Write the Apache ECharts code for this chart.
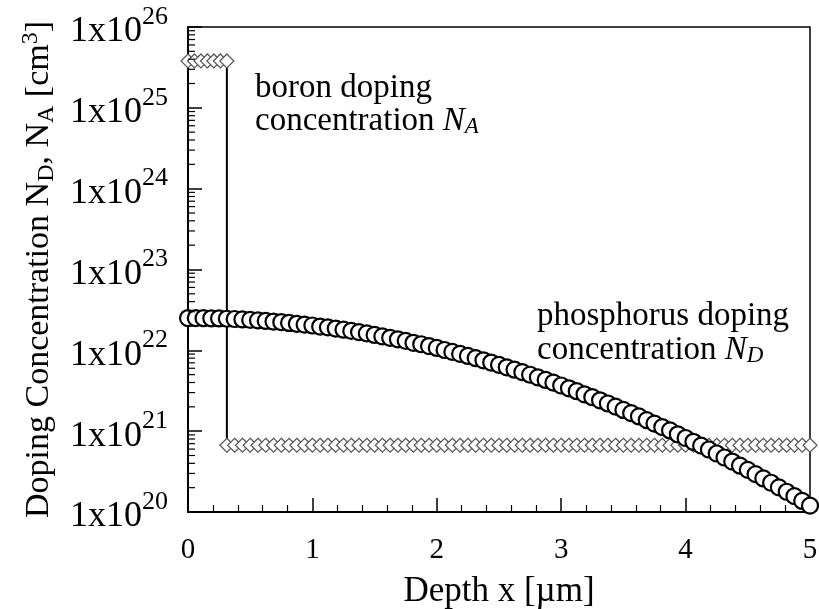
<!DOCTYPE html>
<html>
<head>
<meta charset="utf-8">
<script src="https://cdn.jsdelivr.net/npm/echarts@6/dist/echarts.min.js"></script>
<style>
  html, body { margin: 0; padding: 0; background: #fff; }
  #chart { width: 819px; height: 609px; }
</style>
</head>
<body>
<div id="chart"></div>
<script>
const FONT = 'Liberation Serif';

// phosphorus profile, depth in um and concentration in cm^-3
const phosDepth = [
  0, 0.0625, 0.125, 0.1875, 0.25, 0.3125, 0.375, 0.4375, 0.5, 0.5625,
  0.625, 0.6875, 0.75, 0.8125, 0.875, 0.9375, 1, 1.0625, 1.125, 1.1875,
  1.25, 1.3125, 1.375, 1.4375, 1.5, 1.5625, 1.625, 1.6875, 1.75, 1.8125,
  1.875, 1.9375, 2, 2.0625, 2.125, 2.1875, 2.25, 2.3125, 2.375, 2.4375,
  2.5, 2.5625, 2.625, 2.6875, 2.75, 2.8125, 2.875, 2.9375, 3, 3.0625,
  3.125, 3.1875, 3.25, 3.3125, 3.375, 3.4375, 3.5, 3.5625, 3.625, 3.6875,
  3.75, 3.8125, 3.875, 3.9375, 4, 4.0625, 4.125, 4.1875, 4.25, 4.3125,
  4.375, 4.4375, 4.5, 4.5625, 4.625, 4.6875, 4.75, 4.8125, 4.875, 4.9375,
  5
];
const phosConc = [
  2.51e22, 2.51e22, 2.50e22, 2.49e22, 2.48e22, 2.46e22, 2.44e22, 2.41e22, 2.38e22, 2.35e22,
  2.31e22, 2.27e22, 2.23e22, 2.18e22, 2.13e22, 2.08e22, 2.03e22, 1.97e22, 1.92e22, 1.86e22,
  1.80e22, 1.74e22, 1.68e22, 1.62e22, 1.55e22, 1.49e22, 1.43e22, 1.37e22, 1.31e22, 1.24e22,
  1.19e22, 1.13e22, 1.07e22, 1.01e22, 9.57e21, 9.03e21, 8.52e21, 8.01e21, 7.53e21, 7.06e21,
  6.61e21, 6.17e21, 5.76e21, 5.37e21, 4.99e21, 4.63e21, 4.30e21, 3.98e21, 3.67e21, 3.39e21,
  3.12e21, 2.86e21, 2.63e21, 2.41e21, 2.20e21, 2.01e21, 1.83e21, 1.67e21, 1.52e21, 1.37e21,
  1.24e21, 1.12e21, 1.02e21, 9.15e20, 8.23e20, 7.39e20, 6.62e20, 5.93e20, 5.29e20, 4.72e20,
  4.21e20, 3.74e20, 3.32e20, 2.94e20, 2.60e20, 2.30e20, 2.02e20, 1.78e20, 1.57e20, 1.37e20,
  1.20e20
];

// boron: high surface level, then the background level after the step
const boronHighDepth = [0, 0.052, 0.104, 0.156, 0.208, 0.26, 0.3125];
const boronHighConc = [3.8e25, 3.8e25, 3.8e25, 3.8e25, 3.8e25, 3.8e25, 3.8e25];
const boronLowDepth = phosDepth.slice(5);
const boronLowConc = [
  6.7e20, 6.7e20, 6.7e20, 6.7e20, 6.7e20, 6.7e20, 6.7e20, 6.7e20, 6.7e20, 6.7e20,
  6.7e20, 6.7e20, 6.7e20, 6.7e20, 6.7e20, 6.7e20, 6.7e20, 6.7e20, 6.7e20, 6.7e20,
  6.7e20, 6.7e20, 6.7e20, 6.7e20, 6.7e20, 6.7e20, 6.7e20, 6.7e20, 6.7e20, 6.7e20,
  6.7e20, 6.7e20, 6.7e20, 6.7e20, 6.7e20, 6.7e20, 6.7e20, 6.7e20, 6.7e20, 6.7e20,
  6.7e20, 6.7e20, 6.7e20, 6.7e20, 6.7e20, 6.7e20, 6.7e20, 6.7e20, 6.7e20, 6.7e20,
  6.7e20, 6.7e20, 6.7e20, 6.7e20, 6.7e20, 6.7e20, 6.7e20, 6.7e20, 6.7e20, 6.7e20,
  6.7e20, 6.7e20, 6.7e20, 6.7e20, 6.7e20, 6.7e20, 6.7e20, 6.7e20, 6.7e20, 6.7e20,
  6.7e20, 6.7e20, 6.7e20, 6.7e20, 6.7e20, 6.7e20
];

// log minor ticks (2..9 in each decade)
const decades = [20, 21, 22, 23, 24, 25];
const minorSteps = [2, 3, 4, 5, 6, 7, 8, 9];

function pairs(xs, ys) {
  return xs.map((x, i) => [x, ys[i]]);
}

const boronData = pairs(boronHighDepth, boronHighConc).concat(pairs(boronLowDepth, boronLowConc));
const phosData = pairs(phosDepth, phosConc);

let minorTicks = [];
for (let d of decades) {
  for (let m of minorSteps) {
    minorTicks.push([0, m * Math.pow(10, d)]);
  }
}

const chart = echarts.init(document.getElementById('chart'));

const option = {
  animation: false,
  backgroundColor: '#fff',
  grid: {
    left: 188,
    right: 9,
    top: 27,
    bottom: 97,
    containLabel: false,
    outerBoundsMode: 'none',
    show: true,
    borderColor: '#000',
    borderWidth: 1.5
  },
  xAxis: {
    type: 'value',
    min: 0,
    max: 5,
    interval: 1,
    name: 'Depth x [\u00b5m]',
    nameLocation: 'middle',
    nameGap: 62,
    nameTextStyle: { fontFamily: FONT, fontSize: 35, color: '#000' },
    axisLine: { show: true, onZero: false, lineStyle: { color: '#000', width: 2 } },
    axisTick: { show: true, inside: true, length: 14, lineStyle: { color: '#000', width: 1.5 } },
    minorTick: { show: true, splitNumber: 5, length: 7, lineStyle: { color: '#000', width: 1.2 } },
    splitLine: { show: false },
    axisLabel: { fontFamily: FONT, fontSize: 29, color: '#000', margin: 24 }
  },
  yAxis: {
    type: 'log',
    logBase: 10,
    min: 1e20,
    max: 1e26,
    splitNumber: 6,
    name: '{r|Doping Concentration N}{sub|D}{r|, N}{sub|A}{r| [cm}{sup|3}{r|]}',
    nameLocation: 'middle',
    nameRotate: 90,
    nameGap: 112,
    nameTextStyle: {
      color: '#000',
      rich: {
        r: { fontFamily: FONT, fontSize: 34, lineHeight: 40, verticalAlign: 'middle', color: '#000' },
        sub: { fontFamily: FONT, fontSize: 24, lineHeight: 24, verticalAlign: 'bottom', color: '#000' },
        sup: { fontFamily: FONT, fontSize: 24, lineHeight: 24, verticalAlign: 'top', color: '#000' }
      }
    },
    axisLine: { show: true, onZero: false, lineStyle: { color: '#000', width: 2 } },
    axisTick: { show: true, inside: true, length: 14, lineStyle: { color: '#000', width: 1.5 } },
    splitLine: { show: false },
    axisLabel: {
      margin: 20,
      formatter: function(v) {
        let e = Math.round(Math.log10(v));
        return '{a|1x10}{b|' + e + '}';
      },
      rich: {
        a: { fontFamily: FONT, fontSize: 36, lineHeight: 46, padding: [10, 0, 0, 0], verticalAlign: 'bottom', color: '#000' },
        b: { fontFamily: FONT, fontSize: 26, lineHeight: 26, verticalAlign: 'top', color: '#000' }
      }
    }
  },
  graphic: [
    {
      type: 'text',
      left: 255,
      top: 72,
      style: {
        text: '{r|boron doping}\n{r|concentration }{i|N}{s|A}',
        rich: {
          r: { fontFamily: FONT, fontSize: 33, lineHeight: 33, verticalAlign: 'middle', fill: '#000' },
          i: { fontFamily: FONT, fontSize: 33, lineHeight: 33, fontStyle: 'italic', verticalAlign: 'middle', fill: '#000' },
          s: { fontFamily: FONT, fontSize: 23, lineHeight: 23, fontStyle: 'italic', verticalAlign: 'bottom', fill: '#000' }
        }
      }
    },
    {
      type: 'text',
      left: 537,
      top: 300,
      style: {
        text: '{r|phosphorus doping}\n{r|concentration }{i|N}{s|D}',
        rich: {
          r: { fontFamily: FONT, fontSize: 33, lineHeight: 34, verticalAlign: 'middle', fill: '#000' },
          i: { fontFamily: FONT, fontSize: 33, lineHeight: 34, fontStyle: 'italic', verticalAlign: 'middle', fill: '#000' },
          s: { fontFamily: FONT, fontSize: 23, lineHeight: 23, fontStyle: 'italic', verticalAlign: 'bottom', fill: '#000' }
        }
      }
    }
  ],
  series: [
    {
      name: 'boron',
      type: 'line',
      data: boronData,
      symbol: 'diamond',
      symbolSize: 14,
      showSymbol: true,
      clip: false,
      lineStyle: { color: '#000', width: 2 },
      itemStyle: { color: '#fff', borderColor: '#555', borderWidth: 1.2 }
    },
    {
      name: 'phosphorus',
      type: 'line',
      data: phosData,
      symbol: 'circle',
      symbolSize: 16,
      showSymbol: true,
      clip: false,
      lineStyle: { color: '#000', width: 1 },
      itemStyle: { color: '#fff', borderColor: '#000', borderWidth: 2.2 }
    },
    {
      name: 'minor',
      type: 'custom',
      silent: true,
      clip: false,
      z: 10,
      data: minorTicks,
      encode: { x: 0, y: 1 },
      renderItem: function(params, api) {
        let p = api.coord([0, api.value(1)]);
        return {
          type: 'line',
          shape: { x1: p[0], y1: p[1], x2: p[0] + 7, y2: p[1] },
          style: { stroke: '#000', lineWidth: 1.2 }
        };
      }
    }
  ]
};

chart.setOption(option);
</script>
</body>
</html>
